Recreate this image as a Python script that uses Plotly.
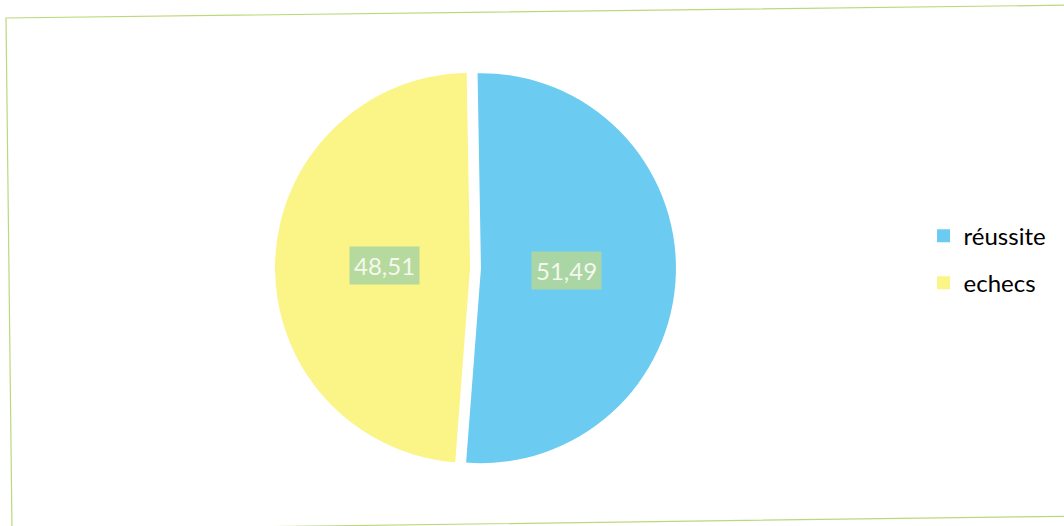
import math
import plotly.graph_objects as go

# Share of outcomes (percent)
categories = ["réussite", "echecs"]
values = [51.49, 48.51]
colors = ["#6ccbf1", "#fbf487"]

W, H = 1064, 526
PULL = 0.028
ROTATION = -1  # start angle of the first slice, degrees
# pie domain in paper units
DOM_X = [0.2585, 0.6353]
DOM_Y = [0.1093, 0.8717]

fig = go.Figure()

fig.add_trace(go.Pie(
    labels=categories,
    values=values,
    marker=dict(colors=colors, line=dict(width=0)),
    sort=False,
    direction="clockwise",
    rotation=ROTATION,
    pull=[PULL] * len(values),
    textinfo="none",
    hoverinfo="label+value",
    showlegend=False,
    domain=dict(x=DOM_X, y=DOM_Y),
))

# Legend entries with a gap between rows
for name, col in zip(categories, colors):
    fig.add_trace(go.Scatter(
        x=[None], y=[None], mode="markers", name=name,
        legendgroup=name,
        marker=dict(symbol="square", size=13, color=col, line=dict(width=0)),
        hoverinfo="skip",
    ))

# Value labels with a filled box, placed along each slice's mid-angle
cx_px = (DOM_X[0] + DOM_X[1]) / 2 * W
cy_px = (1 - (DOM_Y[0] + DOM_Y[1]) / 2) * H
half = min((DOM_X[1] - DOM_X[0]) * W, (DOM_Y[1] - DOM_Y[0]) * H) / 2
r = half / (1 + PULL)
total = sum(values)
start = 0.0
for v in values:
    mid = math.radians(ROTATION) + (start + v / 2) / total * 2 * math.pi
    start += v
    dist = (PULL + 0.44) * r
    lx = cx_px + dist * math.sin(mid)
    ly = cy_px - dist * math.cos(mid)
    fig.add_annotation(
        x=lx / W, y=1 - ly / H, xref="paper", yref="paper",
        text=f"{v:.2f}".replace(".", ","),
        showarrow=False,
        font=dict(family="Lato", size=24, color="#f4f8ee"),
        bgcolor="rgba(176, 214, 158, 0.92)",
        borderpad=4,
    )

# Chart area frame
def px(x, y):
    return f"{x / W:.5f},{1 - y / H:.5f}"

frame = f"M {px(6, 18)} L {px(1080, 5)} L {px(1086, 516)} L {px(12, 530)} Z"
fig.add_shape(type="path", path=frame, xref="paper", yref="paper",
              line=dict(color="#bcd87a", width=1.2), fillcolor="rgba(0,0,0,0)")

fig.update_layout(
    width=W, height=H,
    margin=dict(l=0, r=0, t=0, b=0),
    paper_bgcolor="white",
    plot_bgcolor="white",
    separators=", ",
    xaxis=dict(visible=False),
    yaxis=dict(visible=False),
    legend=dict(
        x=0.868, y=0.594, xanchor="left", yanchor="top",
        font=dict(family="Lato", size=24, color="#000000"),
        tracegroupgap=13,
        itemsizing="trace",
        bgcolor="rgba(0,0,0,0)",
    ),
    font=dict(family="Lato"),
)

fig.write_html("out.html")
